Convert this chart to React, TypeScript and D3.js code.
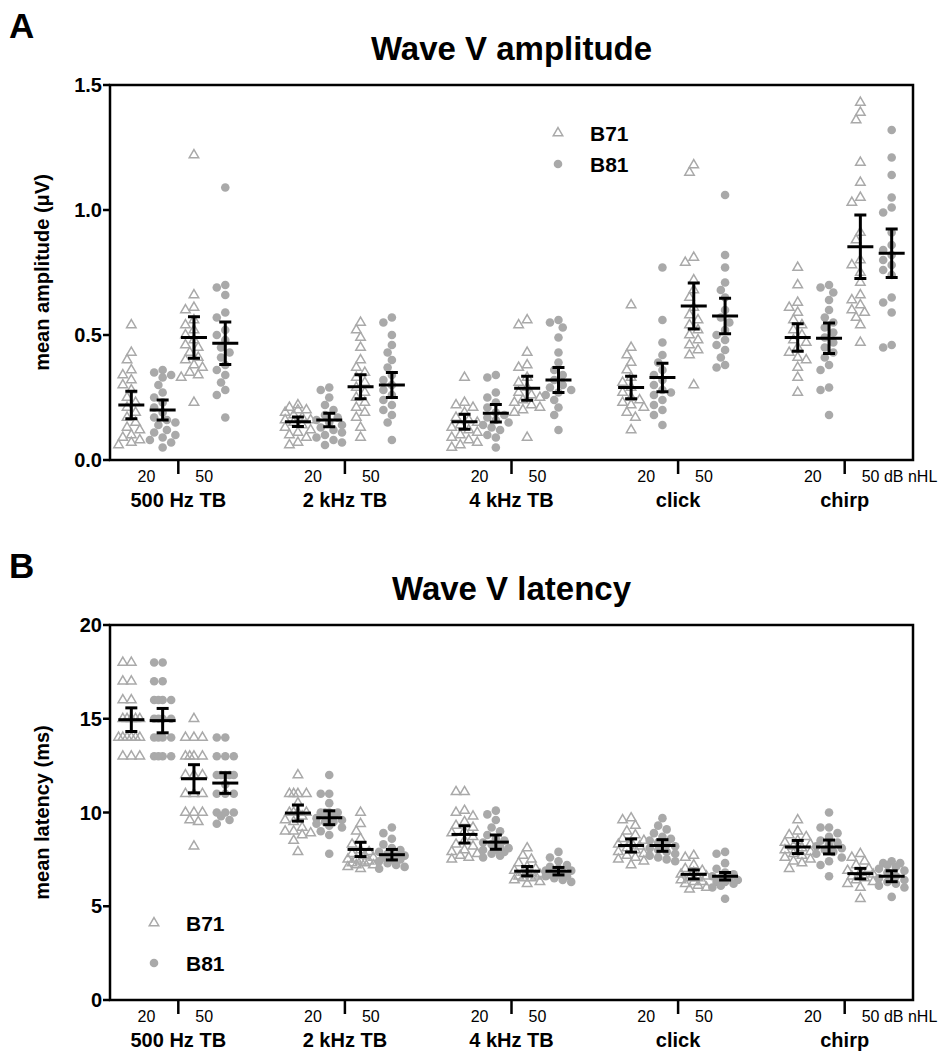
import React from "react";
import * as d3 from "d3";

// ---------- data ----------
const groups = ["500 Hz TB", "2 kHz TB", "4 kHz TB", "click", "chirp"];
const devices = ["B71", "B81"];

// Wave V amplitude (µV), per group
const ampB71at20 = [
  [0.54, 0.43, 0.40, 0.36, 0.34, 0.32, 0.30, 0.28, 0.25, 0.23, 0.21, 0.19, 0.17, 0.15, 0.13, 0.12, 0.10, 0.09, 0.08, 0.07, 0.06],
  [0.22, 0.21, 0.20, 0.20, 0.19, 0.18, 0.17, 0.16, 0.16, 0.15, 0.14, 0.13, 0.12, 0.11, 0.10, 0.09, 0.07, 0.06],
  [0.33, 0.23, 0.22, 0.21, 0.19, 0.17, 0.16, 0.15, 0.14, 0.13, 0.12, 0.11, 0.10, 0.09, 0.08, 0.07, 0.06, 0.05],
  [0.62, 0.45, 0.42, 0.39, 0.36, 0.33, 0.31, 0.29, 0.27, 0.25, 0.24, 0.23, 0.22, 0.21, 0.19, 0.17, 0.12],
  [0.77, 0.70, 0.63, 0.61, 0.59, 0.56, 0.54, 0.52, 0.50, 0.48, 0.47, 0.45, 0.43, 0.41, 0.40, 0.37, 0.33, 0.27],
];
const ampB81at20 = [
  [0.36, 0.35, 0.34, 0.33, 0.30, 0.27, 0.25, 0.23, 0.21, 0.19, 0.17, 0.16, 0.15, 0.14, 0.12, 0.11, 0.10, 0.09, 0.08, 0.07, 0.05],
  [0.29, 0.28, 0.25, 0.22, 0.20, 0.18, 0.17, 0.16, 0.15, 0.14, 0.13, 0.12, 0.11, 0.10, 0.09, 0.08, 0.07, 0.06],
  [0.34, 0.33, 0.27, 0.25, 0.23, 0.21, 0.19, 0.18, 0.17, 0.16, 0.15, 0.14, 0.13, 0.12, 0.10, 0.09, 0.05],
  [0.77, 0.56, 0.47, 0.42, 0.39, 0.36, 0.34, 0.32, 0.30, 0.28, 0.27, 0.26, 0.24, 0.22, 0.20, 0.18, 0.14],
  [0.70, 0.69, 0.67, 0.64, 0.60, 0.57, 0.55, 0.53, 0.51, 0.49, 0.47, 0.45, 0.43, 0.41, 0.38, 0.36, 0.29, 0.28, 0.18],
];
const ampB71at50 = [
  [1.22, 0.66, 0.61, 0.60, 0.56, 0.54, 0.52, 0.50, 0.48, 0.46, 0.45, 0.43, 0.41, 0.40, 0.38, 0.37, 0.35, 0.34, 0.33, 0.23],
  [0.55, 0.52, 0.49, 0.45, 0.40, 0.37, 0.35, 0.33, 0.31, 0.29, 0.27, 0.25, 0.23, 0.21, 0.19, 0.17, 0.13, 0.09],
  [0.56, 0.54, 0.43, 0.38, 0.37, 0.33, 0.31, 0.29, 0.27, 0.26, 0.25, 0.24, 0.23, 0.22, 0.21, 0.20, 0.19, 0.09],
  [1.18, 1.15, 0.81, 0.79, 0.72, 0.68, 0.65, 0.61, 0.58, 0.56, 0.54, 0.52, 0.50, 0.48, 0.46, 0.44, 0.42, 0.30],
  [1.43, 1.39, 1.36, 1.19, 1.11, 1.05, 1.03, 0.91, 0.88, 0.80, 0.78, 0.75, 0.71, 0.66, 0.64, 0.62, 0.60, 0.59, 0.57, 0.54, 0.47],
];
const ampB81at50 = [
  [1.09, 0.70, 0.69, 0.66, 0.59, 0.57, 0.52, 0.50, 0.48, 0.45, 0.43, 0.41, 0.38, 0.36, 0.34, 0.31, 0.28, 0.26, 0.17],
  [0.57, 0.55, 0.50, 0.46, 0.43, 0.40, 0.37, 0.34, 0.32, 0.30, 0.28, 0.26, 0.24, 0.22, 0.20, 0.18, 0.15, 0.08],
  [0.56, 0.55, 0.53, 0.49, 0.43, 0.39, 0.36, 0.34, 0.32, 0.30, 0.29, 0.28, 0.27, 0.26, 0.24, 0.21, 0.18, 0.12],
  [1.06, 0.82, 0.77, 0.71, 0.68, 0.65, 0.60, 0.57, 0.55, 0.52, 0.50, 0.48, 0.46, 0.44, 0.41, 0.38, 0.37],
  [1.32, 1.21, 1.14, 1.05, 1.01, 0.99, 0.91, 0.86, 0.84, 0.82, 0.80, 0.78, 0.76, 0.74, 0.65, 0.63, 0.59, 0.46, 0.45],
];
const ampMeanB71at20 = [0.22, 0.153, 0.153, 0.29, 0.49];
const ampErrB71at20 = [0.055, 0.019, 0.03, 0.045, 0.055];
const ampMeanB81at20 = [0.2, 0.16, 0.187, 0.33, 0.487];
const ampErrB81at20 = [0.04, 0.027, 0.035, 0.057, 0.061];
const ampMeanB71at50 = [0.49, 0.293, 0.287, 0.616, 0.853];
const ampErrB71at50 = [0.083, 0.048, 0.048, 0.092, 0.127];
const ampMeanB81at50 = [0.467, 0.3, 0.32, 0.576, 0.827];
const ampErrB81at50 = [0.085, 0.05, 0.05, 0.071, 0.097];
const ampTicks = [0, 0.5, 1.0, 1.5];

// Wave V latency (ms), per group
const latB71at20 = [
  [18, 18, 17, 17, 16, 16, 15, 15, 15, 15, 15, 14, 14, 14, 14, 14, 14, 13, 13, 13],
  [12, 11, 11, 11, 11, 10.5, 10, 10, 10, 10, 9.8, 9.6, 9.5, 9.2, 9, 9, 8.9, 8.8, 8.5, 7.9],
  [11.1, 11.1, 10.1, 10, 9.8, 9.5, 9.3, 9.2, 9, 8.9, 8.7, 8.5, 8.3, 8.2, 8, 7.9, 7.8, 7.7, 7.6, 7.5],
  [9.7, 9.6, 9.3, 9.0, 8.8, 8.6, 8.5, 8.4, 8.3, 8.2, 8.1, 8.0, 7.9, 7.8, 7.7, 7.6, 7.5, 7.4, 7.2],
  [9.6, 9.0, 8.8, 8.7, 8.5, 8.4, 8.3, 8.2, 8.1, 8.0, 7.9, 7.8, 7.7, 7.6, 7.5, 7.4, 7.3, 7.0],
];
const latB81at20 = [
  [18, 18, 17, 17, 16, 16, 16, 16, 15, 15, 15, 15, 14, 14, 14, 14, 13, 13, 13, 13],
  [12, 11, 11, 10.5, 10, 10, 10, 10, 9.8, 9.7, 9.6, 9.5, 9.5, 9.4, 9.3, 9.2, 9, 8.8, 7.8],
  [10.1, 9.9, 9.6, 9.2, 9.0, 8.8, 8.6, 8.5, 8.4, 8.3, 8.2, 8.1, 8.0, 8.0, 7.9, 7.8, 7.7, 7.6],
  [9.7, 9.3, 9.1, 8.9, 8.7, 8.6, 8.5, 8.4, 8.3, 8.2, 8.1, 8.0, 7.9, 7.8, 7.7, 7.6, 7.5, 7.4],
  [10, 9.2, 9.2, 8.9, 8.7, 8.5, 8.4, 8.3, 8.2, 8.1, 8.0, 7.9, 7.8, 7.6, 7.4, 7.2, 6.6],
];
const latB71at50 = [
  [15, 14, 14, 14, 13, 13, 13, 13, 12, 12, 12, 11, 11, 11, 10, 10, 10, 9.6, 9.5, 8.2],
  [10, 9.4, 9.0, 8.6, 8.3, 8.0, 7.9, 7.8, 7.7, 7.6, 7.5, 7.5, 7.4, 7.4, 7.3, 7.3, 7.2, 7.2, 7.1, 7.0],
  [8.1, 7.7, 7.5, 7.3, 7.1, 7.0, 6.9, 6.8, 6.8, 6.7, 6.7, 6.6, 6.6, 6.5, 6.5, 6.4, 6.3, 6.2],
  [7.7, 7.6, 7.2, 7.0, 6.9, 6.8, 6.7, 6.6, 6.5, 6.5, 6.4, 6.3, 6.3, 6.2, 6.1, 6.0, 5.9],
  [7.8, 7.6, 7.4, 7.2, 7.0, 6.9, 6.8, 6.7, 6.6, 6.5, 6.4, 6.3, 6.2, 6.0, 5.4],
];
const latB81at50 = [
  [14, 14, 13, 13, 13, 12, 12, 12, 12, 12, 11.5, 11, 11, 11, 10, 10, 10, 9.8, 9.6, 9.4],
  [9.2, 8.9, 8.6, 8.3, 8.1, 8.0, 7.9, 7.8, 7.7, 7.7, 7.6, 7.5, 7.5, 7.4, 7.3, 7.2, 7.1, 7.0],
  [7.9, 7.6, 7.4, 7.2, 7.1, 7.0, 6.9, 6.9, 6.8, 6.8, 6.7, 6.7, 6.6, 6.6, 6.5, 6.4, 6.3],
  [7.9, 7.8, 7.3, 7.0, 6.8, 6.7, 6.6, 6.5, 6.5, 6.4, 6.3, 6.3, 6.2, 6.1, 6.0, 5.4],
  [7.4, 7.3, 7.3, 7.2, 7.1, 7.0, 6.9, 6.8, 6.6, 6.5, 6.4, 6.3, 6.2, 6.1, 6.0, 5.5],
];
const latMeanB71at20 = [14.95, 9.97, 8.83, 8.24, 8.16];
const latErrB71at20 = [0.63, 0.43, 0.46, 0.35, 0.35];
const latMeanB81at20 = [14.9, 9.72, 8.42, 8.24, 8.16];
const latErrB81at20 = [0.65, 0.37, 0.38, 0.31, 0.37];
const latMeanB71at50 = [11.8, 8.03, 6.87, 6.7, 6.74];
const latErrB71at50 = [0.75, 0.38, 0.25, 0.24, 0.28];
const latMeanB81at50 = [11.57, 7.75, 6.87, 6.6, 6.6];
const latErrB81at50 = [0.55, 0.28, 0.2, 0.2, 0.29];
const latTicks = [0, 5, 10, 15, 20];

// ---------- layout ----------
const W = 948;
const H = 1053;
const X0 = 110;
const X1 = 913;
const FONT = "'Liberation Sans', Arial, Helvetica, sans-serif";
const GRAY = "#a9a9a9";
const colOffsets = [-0.282, -0.094, 0.094, 0.282];

const xScale = d3.scaleLinear().domain([-0.41, 4.41]).range([X0, X1]);

function dodge(ys: number[], minDist: number, maxOff: number): number[] {
  const order = ys.map((_, i) => i).sort((a, b) => ys[a] - ys[b]);
  const cands: number[] = [0];
  const step = minDist / 2;
  for (let k = 1; k * step <= maxOff + 0.01; k++) cands.push(-k * step, k * step);
  const placed: { x: number; y: number }[] = [];
  const out: number[] = new Array(ys.length).fill(0);
  for (const i of order) {
    let best = 0;
    let bestD = -1;
    for (const c of cands) {
      let d = Infinity;
      for (const p of placed) d = Math.min(d, Math.hypot(p.x - c, p.y - ys[i]));
      if (d >= minDist) {
        best = c;
        bestD = Infinity;
        break;
      }
      if (d > bestD) {
        bestD = d;
        best = c;
      }
    }
    out[i] = best;
    placed.push({ x: best, y: ys[i] });
  }
  return out;
}

function triPath(cx: number, cy: number, s = 9.5) {
  const h = (s * Math.sqrt(3)) / 2;
  return `M${cx},${cy - (2 * h) / 3}L${cx + s / 2},${cy + h / 3}L${cx - s / 2},${cy + h / 3}Z`;
}

function Marker({ device, x, y }: { device: string; x: number; y: number }) {
  if (device === "B71")
    return <path d={triPath(x, y)} fill="none" stroke={GRAY} strokeWidth={1.5} />;
  return <circle cx={x} cy={y} r={4.3} fill={GRAY} />;
}

interface PanelProps {
  top: number;
  bottom: number;
  domain: [number, number];
  ticks: number[];
  fmt: (v: number) => string;
  series: number[][][];
  means: number[][];
  errs: number[][];
  title: string;
  letter: string;
  yLabel: string;
  legend: { x: number; y: number; gap: number };
}

function Panel(p: PanelProps) {
  const y = d3.scaleLinear().domain(p.domain).range([p.bottom, p.top]);
  const cols: React.ReactNode[] = [];
  groups.forEach((_, g) => {
    p.series.forEach((ser, c) => {
      const device = devices[c % 2];
      const vals = ser[g];
      const cx = xScale(g + colOffsets[c]);
      const ys = vals.map((v) => y(v));
      const dx = dodge(ys, 8.5, 13);
      const m = y(p.means[c][g]);
      const eTop = y(p.means[c][g] + p.errs[c][g]);
      const eBot = y(p.means[c][g] - p.errs[c][g]);
      cols.push(
        <g key={`${g}-${c}`}>
          {vals.map((_, i) => (
            <Marker key={i} device={device} x={cx + dx[i]} y={ys[i]} />
          ))}
          <line x1={cx} x2={cx} y1={eTop} y2={eBot} stroke="#000" strokeWidth={3} />
          <line x1={cx - 6} x2={cx + 6} y1={eTop} y2={eTop} stroke="#000" strokeWidth={3} />
          <line x1={cx - 6} x2={cx + 6} y1={eBot} y2={eBot} stroke="#000" strokeWidth={3} />
          <line x1={cx - 13} x2={cx + 13} y1={m} y2={m} stroke="#000" strokeWidth={3} />
        </g>
      );
    });
  });
  const midY = (p.top + p.bottom) / 2;
  return (
    <g fontFamily={FONT}>
      <text x={9} y={p.top - 47} fontSize={35} fontWeight="bold">
        {p.letter}
      </text>
      <text x={(X0 + X1) / 2} y={p.top - 25} fontSize={33} fontWeight="bold" textAnchor="middle">
        {p.title}
      </text>
      <text
        transform={`translate(42,${midY}) rotate(-90)`}
        fontSize={20}
        fontWeight="bold"
        textAnchor="middle"
        dominantBaseline="central"
      >
        {p.yLabel}
      </text>
      {cols}
      <rect x={X0} y={p.top} width={X1 - X0} height={p.bottom - p.top} fill="none" stroke="#000" strokeWidth={2.5} />
      {p.ticks.map((t) => (
        <g key={t}>
          <line x1={X0 - 7} x2={X0} y1={y(t)} y2={y(t)} stroke="#000" strokeWidth={2.5} />
          <text x={X0 - 8} y={y(t)} dy="0.36em" fontSize={20} fontWeight="bold" textAnchor="end">
            {p.fmt(t)}
          </text>
        </g>
      ))}
      {groups.map((name, g) => {
        const gx = xScale(g);
        return (
          <g key={name}>
            <line x1={gx} x2={gx} y1={p.bottom} y2={p.bottom + 14} stroke="#000" strokeWidth={2.5} />
            <text x={gx - 23} y={p.bottom + 22} fontSize={16} textAnchor="end">
              20
            </text>
            <text x={gx + 17} y={p.bottom + 22} fontSize={16} textAnchor="start">
              {g === groups.length - 1 ? "50 dB nHL" : "50"}
            </text>
            <text x={gx} y={p.bottom + 47} fontSize={20} fontWeight="bold" textAnchor="middle">
              {name}
            </text>
          </g>
        );
      })}
      {devices.map((d, i) => (
        <g key={d}>
          <Marker device={d} x={p.legend.x} y={p.legend.y + i * p.legend.gap} />
          <text
            x={p.legend.x + 32}
            y={p.legend.y + i * p.legend.gap}
            dy="0.36em"
            fontSize={21}
            fontWeight="bold"
          >
            {d}
          </text>
        </g>
      ))}
    </g>
  );
}

export default function App() {
  return (
    <svg
      width={W}
      height={H}
      viewBox={`0 0 ${W} ${H}`}
      style={{ position: "absolute", left: 0, top: 0, background: "#fff" }}
    >
      <rect width={W} height={H} fill="#fff" />
      <Panel
        top={85}
        bottom={460}
        domain={[0, 1.5]}
        ticks={ampTicks}
        fmt={d3.format(".1f")}
        series={[ampB71at20, ampB81at20, ampB71at50, ampB81at50]}
        means={[ampMeanB71at20, ampMeanB81at20, ampMeanB71at50, ampMeanB81at50]}
        errs={[ampErrB71at20, ampErrB81at20, ampErrB71at50, ampErrB81at50]}
        title="Wave V amplitude"
        letter="A"
        yLabel="mean amplitude (μV)"
        legend={{ x: 558, y: 133, gap: 31 }}
      />
      <Panel
        top={625}
        bottom={1000}
        domain={[0, 20]}
        ticks={latTicks}
        fmt={d3.format("d")}
        series={[latB71at20, latB81at20, latB71at50, latB81at50]}
        means={[latMeanB71at20, latMeanB81at20, latMeanB71at50, latMeanB81at50]}
        errs={[latErrB71at20, latErrB81at20, latErrB71at50, latErrB81at50]}
        title="Wave V latency"
        letter="B"
        yLabel="mean latency (ms)"
        legend={{ x: 154, y: 923, gap: 40 }}
      />
    </svg>
  );
}
